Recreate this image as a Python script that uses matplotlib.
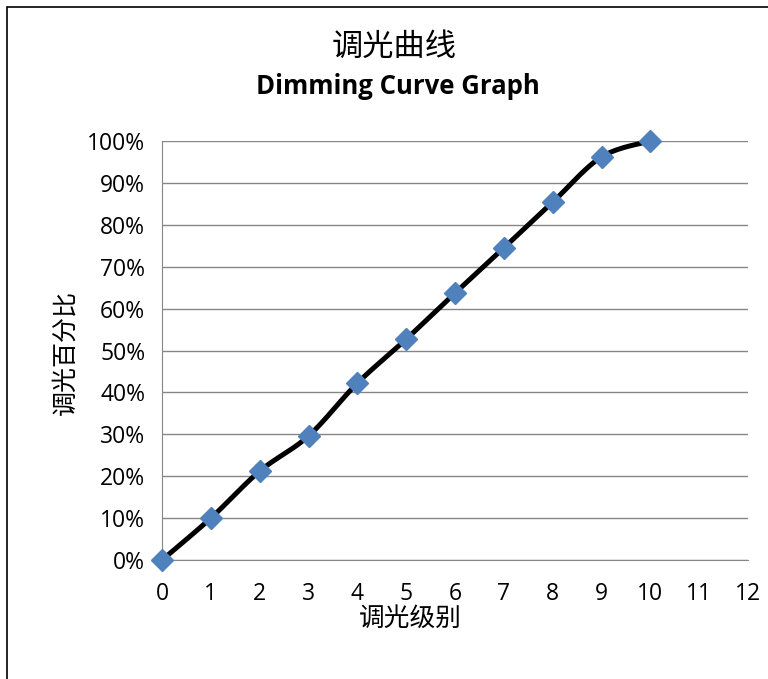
import numpy as np
import matplotlib
matplotlib.use("Agg")
import matplotlib.pyplot as plt
from matplotlib.patches import Rectangle
from matplotlib.ticker import PercentFormatter

levels = [0, 1, 2, 3, 4, 5, 6, 7, 8, 9, 10]
percent = [0, 10, 21.2, 29.6, 42.2, 52.7, 63.7, 74.5, 85.4, 96.2, 100]
x_ticks = list(range(0, 13))
y_ticks = list(range(0, 101, 10))

title_cn = "调光曲线"
title_en = "Dimming Curve Graph"
xlabel = "调光级别"
ylabel = "调光百分比"

cjk = ["Noto Sans CJK SC", "DejaVu Sans"]
latin = ["Open Sans", "DejaVu Sans"]


def smooth(xs, ys, n=30):
    # Excel-like smoothed line: cubic Bezier with Catmull-Rom control points
    xs = np.asarray(xs, float)
    ys = np.asarray(ys, float)
    P = np.column_stack([xs, ys])
    out = []
    for i in range(len(P) - 1):
        p0 = P[i - 1] if i > 0 else P[i]
        p1 = P[i]
        p2 = P[i + 1]
        p3 = P[i + 2] if i + 2 < len(P) else P[i + 1]
        c1 = p1 + (p2 - p0) / 6.0
        c2 = p2 - (p3 - p1) / 6.0
        t = np.linspace(0, 1, n)[:, None]
        seg = ((1 - t) ** 3) * p1 + 3 * ((1 - t) ** 2) * t * c1 + 3 * (1 - t) * t ** 2 * c2 + t ** 3 * p2
        out.append(seg if i == 0 else seg[1:])
    s = np.vstack(out)
    return s[:, 0], s[:, 1]


fig = plt.figure(figsize=(7.68, 6.79), dpi=100)
fig.patches.append(Rectangle((7 / 768, -0.01), 1.0, (679 - 7) / 679 + 0.01,
                             transform=fig.transFigure, fill=False,
                             edgecolor="black", linewidth=1.2))

ax = fig.add_axes([162 / 768, (679 - 560) / 679, 586 / 768, 419 / 679])
sx, sy = smooth(levels, percent)
ax.plot(sx, sy, color="black", linewidth=3.6, zorder=3, solid_capstyle="round")
ax.plot(levels, percent, linestyle="none", marker="D", markersize=11.5,
        color="#4F81BD", markeredgecolor="#4F81BD", zorder=4, clip_on=False)

ax.set_xlim(0, 12)
ax.set_ylim(0, 100)
ax.set_xticks(x_ticks)
ax.set_yticks(y_ticks)
ax.yaxis.set_major_formatter(PercentFormatter(decimals=0))
ax.grid(axis="y", color="#868686", linewidth=1)
ax.set_axisbelow(True)
for s in ["top", "right"]:
    ax.spines[s].set_visible(False)
for s in ["left", "bottom"]:
    ax.spines[s].set_color("#868686")
ax.tick_params(length=0, labelsize=16.5)
ax.tick_params(axis="x", pad=16)
ax.tick_params(axis="y", pad=12)
for lab in ax.get_xticklabels() + ax.get_yticklabels():
    lab.set_family(latin)

fig.text(410 / 768, 1 - 619 / 679, xlabel, family=cjk, fontsize=18.5,
         ha="center", va="center")
fig.text(65 / 768, 1 - 352 / 679, ylabel, family=cjk, fontsize=18,
         ha="center", va="center", rotation=90)

fig.text(394 / 768, 1 - 47 / 679, title_cn, family=cjk, fontsize=22.5,
         ha="center", va="center")
fig.text(398 / 768, 1 - 86 / 679, title_en, family=latin, fontsize=18.5,
         fontweight="bold", ha="center", va="center")

fig.savefig("out.png", dpi=100)
